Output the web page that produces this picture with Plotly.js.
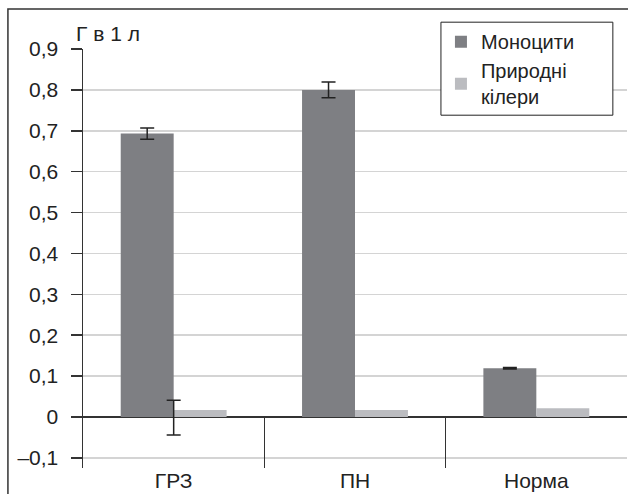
<!DOCTYPE html>
<html><head><meta charset="utf-8">
<script src="https://cdn.plot.ly/plotly-3.0.1.min.js"></script>
<style>body{margin:0;background:#fff}#chart{width:628px;height:494px}</style>
</head><body><div id="chart"></div>
<script>
const categories = ['ГРЗ', 'ПН', 'Норма'];
const monocytes = [0.693, 0.800, 0.119];
const monocytesErr = [0.014, 0.019, 0.002];
const killers = [0.017, 0.017, 0.021];
const killerErrCat = ['ГРЗ'];
const killerErrVal = [0.017];
const killerErrPlus = [0.024];
const killerErrMinus = [0.061];
const yTickVals = [-0.1, 0, 0.1, 0.2, 0.3, 0.4, 0.5, 0.6, 0.7, 0.8, 0.9];
const yTickText = ['\u20130,1', '0', '0,1', '0,2', '0,3', '0,4', '0,5', '0,6', '0,7', '0,8', '0,9'];

const font = '"Liberation Sans", Arial, sans-serif';
const traces = [
  {type:'bar', name:'Моноцити', x:categories, y:monocytes,
   marker:{color:'#7e7f83'},
   error_y:{type:'data', array:monocytesErr, visible:true, color:'#222', thickness:1.5, width:7}},
  {type:'bar', name:'Природні<br>кілери', x:categories, y:killers,
   marker:{color:'#bbbcc0'}},
  {type:'scatter', mode:'markers', x:killerErrCat, y:killerErrVal, showlegend:false,
   marker:{size:0.1, color:'rgba(0,0,0,0)'}, hoverinfo:'skip',
   error_y:{type:'data', symmetric:false, array:killerErrPlus, arrayminus:killerErrMinus,
            visible:true, color:'#222', thickness:1.5, width:7}}
];
const layout = {
  width:628, height:494,
  margin:{l:83, r:1, t:49, b:26},
  paper_bgcolor:'#fff', plot_bgcolor:'#fff',
  font:{family:font, size:21, color:'#222'},
  barmode:'group', bargap:0.416, bargroupgap:0,
  showlegend:true,
  legend:{x:0.658, y:1.064, xanchor:'left', yanchor:'top', bgcolor:'rgba(0,0,0,0)',
          borderwidth:0, font:{family:font, size:20, color:'#222'},
          itemwidth:30, tracegroupgap:0},
  xaxis:{type:'category', showline:false, showgrid:false, zeroline:false,
         ticks:'inside', tickson:'boundaries', ticklen:52, tickwidth:1.2, tickcolor:'#333',
         tickfont:{family:font, size:21, color:'#222'}, ticklabelstandoff:-2},
  yaxis:{range:[-0.125, 0.9], showline:true, linecolor:'#333', linewidth:1.5,
         showgrid:true, gridcolor:'#d4d4d4', gridwidth:1.5,
         zeroline:true, zerolinecolor:'#333', zerolinewidth:1.5,
         ticks:'outside', ticklen:11, tickwidth:1.5, tickcolor:'#333',
         tickmode:'array', tickvals:yTickVals, ticktext:yTickText,
         tickfont:{family:font, size:21, color:'#222'}, ticklabelstandoff:8},
  annotations:[{text:'Г в 1 л', xref:'paper', yref:'paper', x:-0.017, y:1.038,
                xanchor:'left', yanchor:'middle', showarrow:false,
                font:{family:font, size:21, color:'#222'}}],
  shapes:[
    {type:'rect', xref:'paper', yref:'paper', x0:-0.138, x1:1.2, y0:-0.3, y1:1.0955,
     line:{color:'#333', width:1.5}, layer:'above'},
    {type:'rect', xref:'paper', yref:'paper', x0:0.658, x1:0.974, y0:0.842, y1:1.064,
     fillcolor:'#fff', line:{color:'#222', width:1}, layer:'above'}
  ]
};
Plotly.newPlot('chart', traces, layout, {displayModeBar:false, staticPlot:true});
</script></body></html>
